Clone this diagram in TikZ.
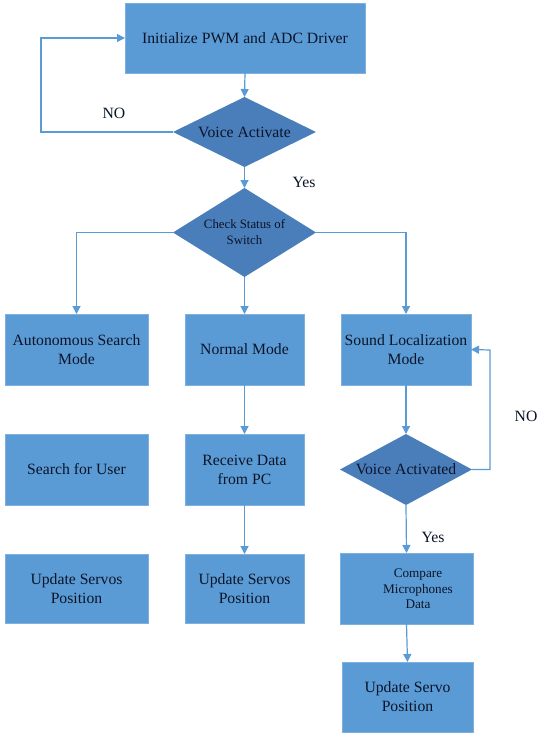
\documentclass[tikz,border=0pt]{standalone}
\usepackage{fontspec}
\setmainfont{Liberation Serif}
\newfontfamily\tnr{Liberation Serif}
\usetikzlibrary{shapes.geometric,arrows.meta,shadows}
\definecolor{boxblue}{HTML}{5B9BD5}
\definecolor{boxedge}{HTML}{7DB1E0}
\definecolor{diablue}{HTML}{4A7EBB}
\definecolor{linecol}{HTML}{5B9BD5}
\definecolor{txt}{HTML}{0A1428}
\begin{document}
\begin{tikzpicture}[x=1pt,y=-1pt,
  box/.style={rectangle, fill=boxblue, draw=boxedge, line width=0.6pt, inner sep=0pt, outer sep=0pt,
    align=center, text=txt, font=\tnr\fontsize{15.7}{19}\selectfont,
    drop shadow={opacity=0.18, shadow xshift=1.2pt, shadow yshift=-1.2pt}},
  dia/.style={diamond, fill=diablue, draw=none, inner sep=0pt, outer sep=0pt},
  lbl/.style={text=txt, font=\tnr\fontsize{15.7}{19}\selectfont, inner sep=0pt, align=center},
  smalllbl/.style={text=txt, font=\tnr\fontsize{12.8}{16}\selectfont, inner sep=0pt, align=center},
  cmplbl/.style={text=txt, font=\tnr\fontsize{13.2}{15.5}\selectfont, inner sep=0pt, align=center},
  arr/.style={draw=linecol, line width=1.2pt, -{Triangle[length=8pt,width=8pt]}}]

\fill[white] (0,0) rectangle (546,741);
\useasboundingbox (0,0) rectangle (546,741);

% top
\node[box, minimum width=240pt, minimum height=70pt] (init) at (245,38) {Initialize PWM and ADC Driver};
\node[dia, minimum width=143pt, minimum height=70pt] (va) at (244.5,132) {};
\node[lbl] (vat) at (244.5,132) {Voice Activate};
\node[dia, minimum width=143pt, minimum height=89pt] (cs) at (244.5,232.5) {};
\node[smalllbl] (cst) at (244.5,232) {Check Status of\\Switch};

% row 1
\node[box, minimum width=143pt, minimum height=71pt] (auto) at (76.5,349.5) {Autonomous Search\\Mode};
\node[box, minimum width=119pt, minimum height=71pt] (normal) at (244.5,349.5) {Normal Mode};
\node[box, minimum width=130pt, minimum height=71pt] (sound) at (406,349.5) {Sound Localization\\Mode};

% row 2
\node[box, minimum width=143pt, minimum height=71pt] (search) at (76.5,469.5) {Search for User};
\node[box, minimum width=119pt, minimum height=71pt] (recv) at (244.5,469.5) {Receive Data\\from PC};
\node[dia, minimum width=132pt, minimum height=71pt] (va2) at (406,469.5) {};
\node[lbl] (va2t) at (406,469) {Voice Activated};

% row 3
\node[box, minimum width=143pt, minimum height=69pt] (upd1) at (76.5,588.5) {Update Servos\\Position};
\node[box, minimum width=119pt, minimum height=69pt] (upd2) at (244.5,588.5) {Update Servos\\Position};
\node[box, minimum width=133pt, minimum height=71pt] (cmp) at (406.5,588.5) {};
\node[cmplbl] (cmpt) at (418,589) {Compare\\Microphones\\Data};

% row 4
\node[box, minimum width=131pt, minimum height=70pt] (upd3) at (407.5,697) {Update Servo\\Position};

% labels
\node[lbl] (no1) at (114,113) {NO};
\node[lbl] (yes1) at (304,182) {Yes};
\node[lbl] (no2) at (526,416) {NO};
\node[lbl] (yes2) at (433,537) {Yes};

% connectors
\coordinate (nl) at (41,132);
\coordinate (nt) at (41,38);
\coordinate (rl) at (490,469.5);
\coordinate (rt) at (490,350);

\draw[arr] (init.south) -- (va.north);
\draw[arr] (va.west) -- (nl) -- (nt) -- (init.west);
\draw[arr] (va.south) -- (cs.north);
\draw[arr] (cs.west) -| (auto.north);
\draw[arr] (cs.south) -- (normal.north);
\draw[arr] (cs.east) -| (sound.north);
\draw[arr] (normal.south) -- (recv.north);
\draw[arr] (recv.south) -- (upd2.north);
\draw[arr] (sound.south) -- (va2.north);
\draw[arr] (va2.east) -- (rl) -- (rt) -- (sound.east);
\draw[arr] (va2.south) -- (cmp.north);
\draw[arr] (cmp.south) -- (upd3.north);
\end{tikzpicture}
\end{document}
